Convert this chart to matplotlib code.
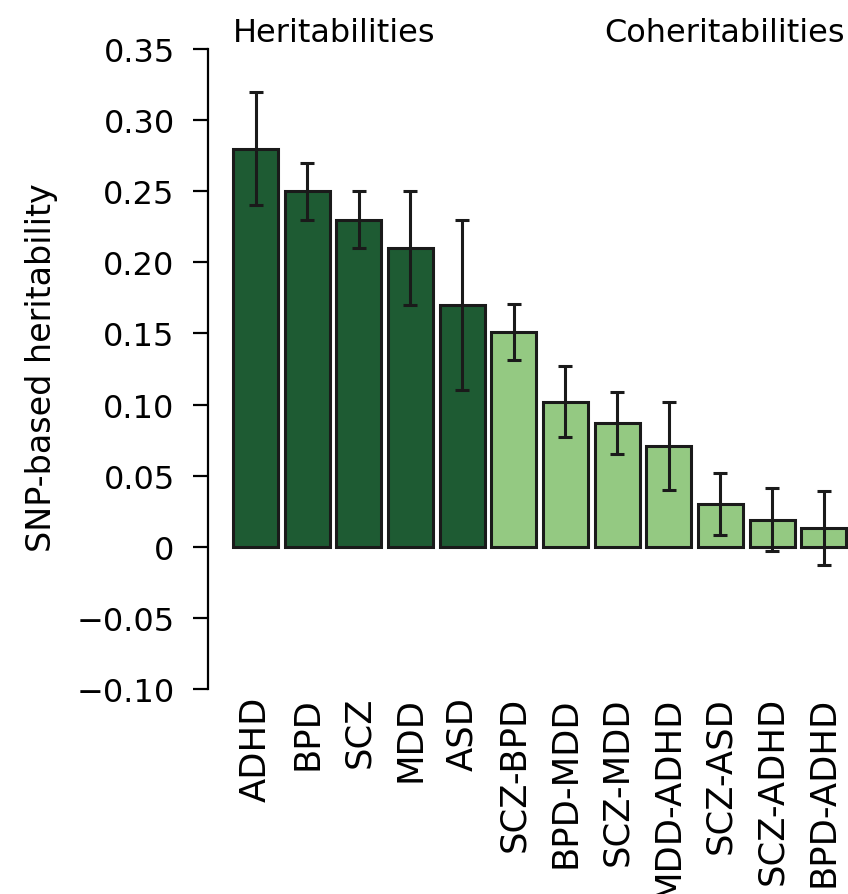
import numpy as np
import matplotlib
matplotlib.use("Agg")
import matplotlib.pyplot as plt

plt.rcParams['font.family'] = ['DejaVu Sans']

labels = ['ADHD', 'BPD', 'SCZ', 'MDD', 'ASD',
          'SCZ-BPD', 'BPD-MDD', 'SCZ-MDD', 'MDD-ADHD', 'SCZ-ASD', 'SCZ-ADHD', 'BPD-ADHD']
values = [0.28, 0.25, 0.23, 0.21, 0.17,
          0.151, 0.102, 0.087, 0.071, 0.030, 0.019, 0.013]
errors = [0.04, 0.02, 0.02, 0.04, 0.06,
          0.02, 0.025, 0.022, 0.031, 0.022, 0.022, 0.026]
n_herit = 5

dark = '#1e5b33'
light = '#94c982'
colors = [dark] * n_herit + [light] * (len(labels) - n_herit)

fig = plt.figure(figsize=(8.48, 8.95), dpi=100)
ax = fig.add_axes([208/848, 1 - 690/895, 1 - 208/848, 640/895])

x = np.arange(len(labels))
ax.bar(x, values, width=0.87, color=colors, edgecolor='#1a1a1a', linewidth=2.2)
ax.errorbar(x, values, yerr=errors, fmt='none', ecolor='#1a1a1a',
            elinewidth=2.2, capsize=5, capthick=2.2)

ax.set_xlim(-0.92, 11.47)
ax.set_ylim(-0.10, 0.35)
yt = np.arange(-0.10, 0.351, 0.05)
ax.set_yticks(yt)
ax.set_yticklabels(['\u22120.10', '\u22120.05', '0', '0.05', '0.10', '0.15',
                    '0.20', '0.25', '0.30', '0.35'])
ax.set_xticks(x)
ax.set_xticklabels(labels, rotation=90, va='top')

for s in ['top', 'right', 'bottom']:
    ax.spines[s].set_visible(False)
ax.spines['left'].set_linewidth(1.6)
ax.spines['left'].set_bounds(-0.10, 0.35)
ax.tick_params(axis='y', labelsize=23, length=11, width=1.6, pad=13)
ax.tick_params(axis='x', labelsize=25.5, length=0, pad=5)

fig.text(42/848, 1 - 368/895, 'SNP-based heritability', fontsize=24,
         rotation=90, ha='center', va='center')
fig.text(233/848, 1 - 42/895, 'Heritabilities', fontsize=23, ha='left', va='baseline')
fig.text(845/848, 1 - 42/895, 'Coheritabilities', fontsize=23, ha='right', va='baseline')

fig.savefig('out.png', dpi=100)
